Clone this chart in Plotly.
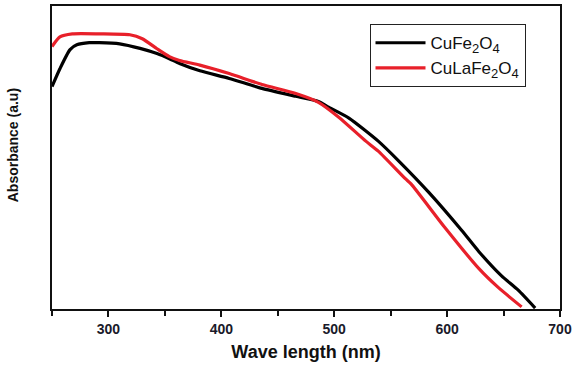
import plotly.graph_objects as go

# UV-Vis absorbance spectra (arbitrary units)
wl_cufe = [250, 257, 266, 272, 283, 292, 310, 328, 343, 354, 363, 381, 407, 436, 466,
           486, 495, 513, 539, 557, 584, 613, 628, 648, 663, 678]
abs_cufe = [0.734, 0.793, 0.856, 0.872, 0.879, 0.879, 0.875, 0.860, 0.843, 0.826, 0.810,
            0.786, 0.761, 0.728, 0.702, 0.685, 0.666, 0.630, 0.554, 0.489, 0.384,
            0.259, 0.190, 0.110, 0.062, 0.003]

wl_culafe = [250, 257, 268, 292, 319, 330, 343, 354, 363, 381, 407, 436, 466, 486,
             504, 528, 539, 563, 568, 598, 628, 645, 666]
abs_culafe = [0.866, 0.898, 0.908, 0.908, 0.905, 0.892, 0.859, 0.833, 0.820, 0.805,
              0.777, 0.741, 0.711, 0.682, 0.633, 0.554, 0.521, 0.430, 0.413, 0.269,
              0.134, 0.072, 0.007]

x_ticks = [300, 400, 500, 600, 700]


def formula(prefix):
    sub = "<sub><span style='font-size:13px'>{}</span></sub>"
    return prefix + "Fe" + sub.format("2") + "O" + sub.format("4")


fig = go.Figure()
fig.add_trace(go.Scatter(
    x=wl_cufe, y=abs_cufe, mode="lines", name=formula("Cu"),
    line=dict(color="#000000", width=3.2, shape="spline", smoothing=0.6),
))
fig.add_trace(go.Scatter(
    x=wl_culafe, y=abs_culafe, mode="lines", name=formula("CuLa"),
    line=dict(color="#e8202a", width=3.2, shape="spline", smoothing=0.6),
))

# Y-axis title placed as a rotated annotation, slightly above the axis midpoint
fig.add_annotation(
    text="Absorbance (a.u)", xref="paper", yref="paper", x=-0.077, y=0.54,
    xanchor="center", yanchor="middle", textangle=-90, showarrow=False,
    font=dict(size=14, weight="bold", color="#111111"),
)

fig.update_layout(
    width=576, height=367,
    margin=dict(l=52, r=13, t=4, b=58),
    paper_bgcolor="white", plot_bgcolor="white",
    font=dict(family="Arial, Liberation Sans, sans-serif", color="#111111"),
    showlegend=True,
    legend=dict(
        x=0.625, y=0.94, xanchor="left", yanchor="top",
        bordercolor="#222222", borderwidth=1, bgcolor="white",
        font=dict(size=17, family="Arial, Liberation Sans, sans-serif", color="#111111"),
        itemwidth=50, tracegroupgap=0,
    ),
    xaxis=dict(
        range=[250, 700], tickvals=x_ticks,
        ticks="outside", ticklen=6, tickwidth=2, tickcolor="#111111",
        minor=dict(dtick=50, tick0=250, ticks="outside", ticklen=5, tickwidth=1.5,
                   tickcolor="#111111"),
        showline=True, linewidth=2, linecolor="#111111", mirror=True,
        showgrid=False, zeroline=False,
        tickfont=dict(size=14, weight="bold", color="#1a1a2a"),
        title=dict(text="Wave length (nm)", font=dict(size=18, weight="bold"), standoff=10),
    ),
    yaxis=dict(
        range=[0, 1.0], showticklabels=False, ticks="",
        showline=True, linewidth=2, linecolor="#111111", mirror=True,
        showgrid=False, zeroline=False,
    ),
)

fig.write_html("out.html")
